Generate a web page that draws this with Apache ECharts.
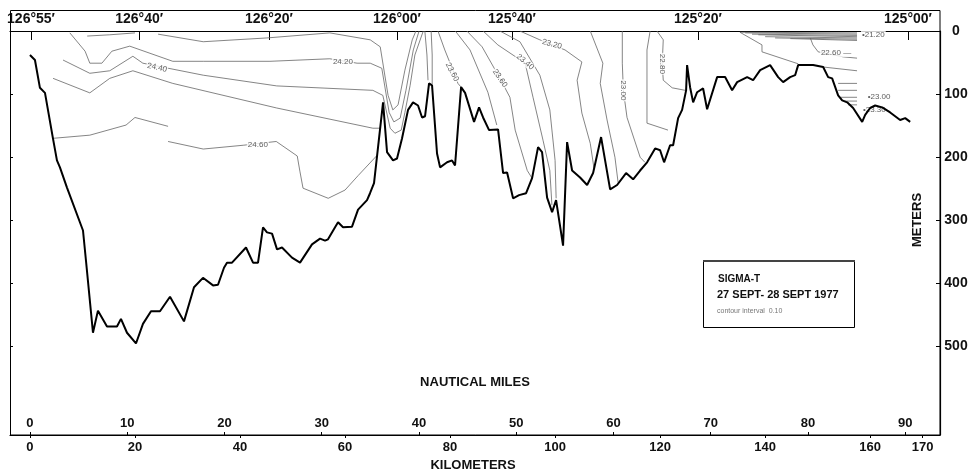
<!DOCTYPE html>
<html>
<head>
<meta charset="utf-8">
<script src="https://cdn.jsdelivr.net/npm/echarts@6/dist/echarts.min.js"></script>
<style>html,body{margin:0;padding:0;background:#fff;}#c{width:974px;height:472px;}</style>
</head>
<body>
<div id="c"></div>
<script>
// ---- axes / tick labels ----
const kmTicks = [0, 20, 40, 60, 80, 100, 120, 140, 160, 170];
const nmTicks = [0, 10, 20, 30, 40, 50, 60, 70, 80, 90];
const depthTicks = [0, 100, 200, 300, 400, 500];
const lonLabels = ["126°55′", "126°40′", "126°20′", "126°00′", "125°40′", "125°20′", "125°00′"];
const lonKm = [0.2, 20.8, 45.5, 69.9, 91.8, 127.2, 167.2];
const kmRange = [-3.8, 173.3];
const KM_PER_NM = 1.852;

// ---- bottom profile (km along section, depth m) ----
const profileKm = [0,0.95,1.9,2.86,4.38,5.14,5.71,7.05,10.1,10.67,12.0,12.95,14.67,16.57,17.33,18.48,20.19,21.52,23.05,24.76,26.67,29.33,31.24,32.95,34.86,35.81,36.95,37.52,38.48,41.14,42.48,43.43,44.38,45.14,46.1,47.05,48.0,49.9,51.43,53.71,55.24,56.19,56.76,58.1,58.67,59.62,61.33,62.48,64.19,64.76,65.52,67.24,68.0,69.14,69.9,70.86,72.0,72.95,73.9,74.67,75.24,76.0,76.57,77.52,78.1,79.43,80.38,80.95,82.1,82.86,84.57,85.52,86.29,87.43,89.14,90.1,90.86,92.0,93.14,94.48,95.62,96.76,97.52,98.48,99.43,100.19,101.52,102.29,103.24,104.76,106.1,107.24,108.76,110.48,111.81,113.52,114.86,116.19,117.52,119.05,120.0,120.76,121.9,122.48,123.43,124.19,124.95,125.14,125.71,126.29,127.05,128.19,128.95,130.86,132.38,133.71,134.67,136.57,137.71,139.05,140.95,142.48,143.43,144.76,145.71,146.29,149.14,151.05,152.0,152.76,153.9,154.67,155.62,156.76,158.48,159.05,160.0,160.95,162.29,163.81,165.71,166.67,167.62];
const profileDepth = [38,46,90,98,170,205,216,248,316,364,478,443,468,468,456,478,495,464,444,444,421,460,406,391,403,402,375,367,367,343,367,367,311,319,321,346,343,359,367,338,329,332,330,311,303,311,310,283,268,257,241,113,192,205,202,170,125,113,118,137,135,83,86,194,216,208,205,213,89,98,144,121,137,157,156,225,224,265,260,257,233,184,192,264,287,268,340,176,221,232,244,225,168,251,244,225,235,221,208,186,189,208,181,181,138,125,94,54,89,113,97,91,124,73,73,94,81,73,78,62,54,73,81,73,70,54,54,57,73,75,102,110,113,122,144,133,122,118,121,129,141,138,144];

// ---- sigma-t contours ([km, depth]) ----
const c_top1 = [[10.9,8],[15.2,6],[20.0,3]];
const c_top2 = [[24.4,5],[33.0,17],[45.1,11],[57.1,3],[64.8,14],[66.7,25],[68.2,102],[69.1,125],[70.1,117],[71.4,62],[72.8,14],[73.5,0]];
const c_2420 = [[7.6,3],[10.5,32],[11.4,51],[13.7,51],[15.6,32],[19.0,24],[27.2,48],[33.0,48],[45.7,48],[57.1,44],[62.3,51],[64.8,51],[67.0,59],[68.4,129],[69.3,144],[70.5,138],[71.6,94],[73.0,30],[74.1,0]];
const c_2430 = [[6.3,46],[11.4,67],[15.2,63],[19.6,40],[21.5,51],[33.0,70],[47.0,87],[65.3,94],[67.2,102],[68.6,154],[69.5,162],[70.7,157],[71.4,129],[72.4,86],[73.3,38],[74.9,0]];
const c_2440 = [[4.4,75],[11.4,98],[15.2,75],[19.6,63],[27.2,83],[47.0,122],[65.3,154],[66.7,154]];
const c_2460a = [[4.4,170],[11.4,165],[18.3,149],[20.0,137],[26.3,151]];
const c_2460b = [[26.3,175],[33.0,187],[40.6,181],[46.9,175],[50.9,198],[51.4,222],[52.0,249],[56.8,265],[60.0,252],[62.5,229],[66.1,197]];
const c_r1 = [[75.2,0],[75.6,38],[75.8,78]];
const c_r2 = [[76.4,0],[76.6,38],[76.6,84]];
const c_m1 = [[77.7,0],[79.0,30],[80.4,59],[81.5,83],[82.1,89]];
const c_m2 = [[81.0,0],[83.8,30],[87.2,97],[88.9,149]];
const c_m3 = [[83.2,0],[86.1,25],[89.5,75],[91.4,105],[92.4,157],[94.7,221],[95.6,233]];
const c_m4 = [[86.3,0],[89.1,22],[94.3,51],[95.8,105],[97.7,173],[99.0,221],[99.4,276]];
const c_m4b = [[89.5,0],[93.3,17],[97.1,70],[99.0,125],[100.0,205],[100.2,265]];
const c_m5 = [[93.3,0],[97.1,14],[101.9,30],[105.1,49],[104.2,78],[105.1,130],[106.7,178],[107.4,217]];
const c_m6 = [[106.7,0],[109.1,51],[108.6,83],[109.9,141],[111.4,200],[112.0,240]];
const c_m7 = [[112.8,0],[112.8,51],[113.0,94],[113.7,137],[116.2,200],[117.1,208]];
const c_m8 = [[118.1,0],[117.5,30],[117.5,146],[121.5,157]];
const c_m9 = [[119.4,0],[120.6,14],[120.4,52],[120.6,78],[122.3,90],[124.8,94]];
const c_e1 = [[135.2,2],[139.4,22],[139.4,33],[146.3,52]];
const c_e2 = [[151.0,57],[157.5,63]];
const c_2260 = [[148.6,11],[149.1,22],[150.1,33],[154.9,41],[157.5,43]];
const c_d1 = [[135.2,2],[157.5,3]];
const c_d2 = [[136.2,3],[157.5,5]];
const c_d3 = [[137.5,5],[157.5,7]];
const c_d4 = [[138.7,6],[157.5,9]];
const c_d5 = [[140.0,9],[157.5,11]];
const c_d6 = [[141.9,11],[157.5,13]];
const c_d7 = [[144.8,12],[157.5,15]];
const c_h1 = [[153.9,83],[157.5,83]];
const c_h2 = [[153.9,94],[157.5,94]];
const c_h3 = [[154.3,105],[157.5,105]];
const c_h4 = [[154.9,111],[157.5,111]];
const c_h5 = [[155.8,117],[157.5,117]];
const contours = [c_top1,c_top2,c_2420,c_2430,c_2440,c_2460a,c_2460b,c_r1,c_r2,c_m1,c_m2,c_m3,c_m4,c_m4b,c_m5,c_m6,c_m7,c_m8,c_m9,c_e1,c_e2,c_2260,c_d1,c_d2,c_d3,c_d4,c_d5,c_d6,c_d7,c_h1,c_h2,c_h3,c_h4,c_h5];

const contourLabelText = ["24.20","24.40","24.60","23.60","23.60","23.40","23.20","23.00","22.80","22.60 —","•21.20","•23.00","•23.30"];
const contourLabelPos = [[59.6,48],[24.2,58],[43.4,181],[80.4,65],[89.5,75],[94.3,49],[99.4,21],[113.0,94],[120.4,52],[153.5,35],[160.6,6],[161.7,105],[160.8,125]];
const contourLabelRot = [0,-12,0,-62,-55,-40,-15,-90,-90,0,0,0,0];

const FONT = '"Liberation Sans", Arial, sans-serif';
const chart = echarts.init(document.getElementById('c'), null, {renderer: 'canvas'});

function nearestIdx(arr, v){ let b=0; for(let i=1;i<arr.length;i++){ if(Math.abs(arr[i]-v)<Math.abs(arr[b]-v)) b=i; } return b; }

const series = [];
contours.forEach(c => series.push({
  type: 'line', data: c, xAxisIndex: 0, yAxisIndex: 0, symbol: 'none', silent: true,
  lineStyle: {color: '#666', width: 0.8}, z: 2
}));
series.push({
  type: 'line', xAxisIndex: 0, yAxisIndex: 0, symbol: 'none', silent: true,
  data: profileKm.map((k, i) => [k, profileDepth[i]]),
  lineStyle: {color: '#000', width: 2}, z: 5
});
series.push({
  type: 'scatter', xAxisIndex: 0, yAxisIndex: 0, symbolSize: 0, silent: true, z: 4,
  data: contourLabelText.map((t, i) => ({
    name: t, value: contourLabelPos[i],
    label: {rotate: contourLabelRot[i]}
  })),
  label: {
    show: true, position: 'inside', formatter: p => p.name,
    fontFamily: FONT, fontSize: 8, color: '#333', backgroundColor: '#fff', padding: [0, 1]
  }
});

const option = {
  animation: false,
  backgroundColor: '#fff',
  grid: {left: 10, right: 34, top: 31, bottom: 37},
  xAxis: [
    { // kilometers
      type: 'value', position: 'bottom', min: kmRange[0], max: kmRange[1],
      axisLine: {show: true, onZero: false, lineStyle: {color: '#000', width: 1.2}},
      axisTick: {show: true, length: 3, customValues: kmTicks, lineStyle: {color: '#000'}},
      axisLabel: {show: true, customValues: kmTicks, margin: 6, fontFamily: FONT, fontWeight: 'bold', fontSize: 13, color: '#111'},
      splitLine: {show: false}
    },
    { // nautical miles
      type: 'value', position: 'bottom', min: kmRange[0] / KM_PER_NM, max: kmRange[1] / KM_PER_NM,
      axisLine: {show: false, onZero: false},
      axisTick: {show: true, inside: true, length: 3, customValues: nmTicks, lineStyle: {color: '#000'}},
      axisLabel: {show: true, inside: true, customValues: nmTicks, margin: 5, fontFamily: FONT, fontWeight: 'bold', fontSize: 13, color: '#111'},
      splitLine: {show: false}
    },
    { // longitude
      type: 'value', position: 'top', min: kmRange[0], max: kmRange[1],
      axisLine: {show: true, onZero: false, lineStyle: {color: '#000', width: 1.2}},
      axisTick: {show: true, inside: true, length: 9, customValues: lonKm, lineStyle: {color: '#000'}},
      axisLabel: {show: true, customValues: lonKm, margin: 5, fontFamily: FONT, fontWeight: 'bold', fontSize: 14, color: '#111',
        formatter: v => lonLabels[nearestIdx(lonKm, v)]},
      splitLine: {show: false}
    }
  ],
  yAxis: [
    {
      type: 'value', position: 'right', inverse: true, min: 0, max: 640,
      axisLine: {show: true, onZero: false, lineStyle: {color: '#000', width: 1.2}},
      axisTick: {show: true, inside: true, length: 4, customValues: depthTicks, lineStyle: {color: '#000'}},
      axisLabel: {show: true, customValues: depthTicks, margin: 16, align: 'center', fontFamily: FONT, fontWeight: 'bold', fontSize: 14, color: '#111'},
      splitLine: {show: false}
    },
    {
      type: 'value', position: 'left', inverse: true, min: 0, max: 640,
      axisLine: {show: true, onZero: false, lineStyle: {color: '#000', width: 1}},
      axisTick: {show: true, inside: true, length: 3, customValues: depthTicks.slice(1), lineStyle: {color: '#000'}},
      axisLabel: {show: false},
      splitLine: {show: false}
    }
  ],
  series: series,
  graphic: [
    {type: 'rect', silent: true, z: 10, shape: {x: 10.5, y: 10.5, width: 929.5, height: 424.5},
      style: {fill: 'none', stroke: '#000', lineWidth: 1}},
    {type: 'text', silent: true, z: 10, style: {text: 'NAUTICAL MILES', x: 475, y: 382, align: 'center', verticalAlign: 'middle',
      font: 'bold 13px ' + FONT, fill: '#111'}},
    {type: 'text', silent: true, z: 10, style: {text: 'KILOMETERS', x: 473, y: 465, align: 'center', verticalAlign: 'middle',
      font: 'bold 13px ' + FONT, fill: '#111'}},
    {type: 'text', silent: true, z: 10, x: 917, y: 220, rotation: Math.PI / 2,
      style: {text: 'METERS', x: 0, y: 0, align: 'center', verticalAlign: 'middle', font: 'bold 13px ' + FONT, fill: '#111'}},
    {type: 'rect', silent: true, z: 10, shape: {x: 703.5, y: 261.5, width: 151, height: 66},
      style: {fill: '#fff', stroke: '#000', lineWidth: 1}},
    {type: 'line', silent: true, z: 11, shape: {x1: 703, y1: 261, x2: 855, y2: 261},
      style: {stroke: '#444', lineWidth: 2}},
    {type: 'text', silent: true, z: 11, style: {text: 'SIGMA-T', x: 718, y: 279, align: 'left', verticalAlign: 'middle',
      font: 'bold 10px ' + FONT, fill: '#111'}},
    {type: 'text', silent: true, z: 11, style: {text: '27 SEPT- 28 SEPT 1977', x: 717, y: 295, align: 'left', verticalAlign: 'middle',
      font: 'bold 11px ' + FONT, fill: '#111'}},
    {type: 'text', silent: true, z: 11, style: {text: 'contour interval  0.10', x: 717, y: 311, align: 'left', verticalAlign: 'middle',
      font: '7px ' + FONT, fill: '#777'}}
  ]
};
chart.setOption(option);
</script>
</body>
</html>
